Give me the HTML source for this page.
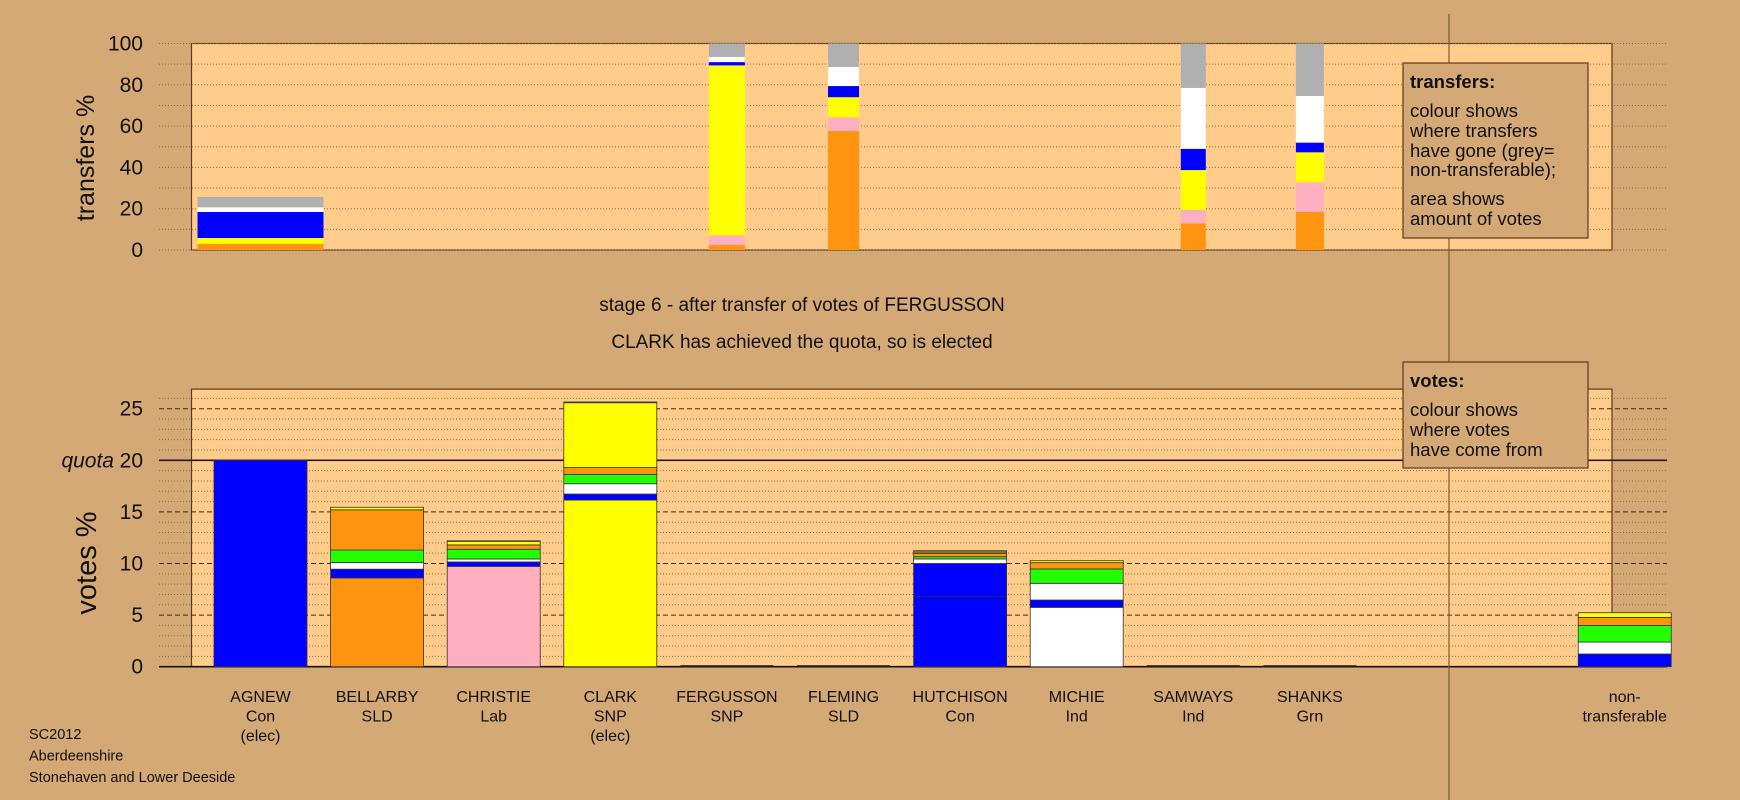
<!DOCTYPE html>
<html><head><meta charset="utf-8"><style>
html,body{margin:0;padding:0;background:#D4A976;}
svg{display:block;font-family:"Liberation Sans",Arial,sans-serif;}
</style></head><body>
<svg id="chart" width="1740" height="800" viewBox="0 0 1740 800" xmlns="http://www.w3.org/2000/svg">
<rect x="0" y="0" width="1740" height="800" fill="#D4A976"/>
<g id="top"></g>
<g id="bottom"></g>
<g id="overlay"></g>
</svg>
<script>
const NS='http://www.w3.org/2000/svg';
// ---- data ----
const candidates=['AGNEW','BELLARBY','CHRISTIE','CLARK','FERGUSSON','FLEMING','HUTCHISON','MICHIE','SAMWAYS','SHANKS'];
const parties=['Con','SLD','Lab','SNP','SNP','SLD','Con','Ind','Ind','Grn'];
const elected=[true,false,false,true,false,false,false,false,false,false];
const colorKeys=['orange','pink','yellow','blue','white','green','grey','olive'];
const topTicks=[0,20,40,60,80,100];
const bottomTicks=[0,5,10,15,20,25];
const quota=20;
const transferSlots=[0,4,5,8,9];
const transferAmounts=[12.6,3.6,3.1,2.5,2.8];
const transferAgnew=[['orange',3],['yellow',2.8],['blue',12.6],['white',2.3],['grey',5]];
const transferFergusson=[['orange',2.4],['pink',4.7],['yellow',82.3],['blue',1.6],['white',2.5],['grey',6.5]];
const transferFleming=[['orange',57.6],['pink',6.7],['yellow',9.7],['blue',5.4],['white',9.2],['grey',11.4]];
const transferSamways=[['orange',12.9],['pink',6.5],['yellow',19.3],['blue',10.3],['white',29.5],['grey',21.5]];
const transferShanks=[['orange',18.4],['pink',14.4],['yellow',14.5],['blue',4.7],['white',22.6],['grey',25.4]];
const transferSeries=[transferAgnew,transferFergusson,transferFleming,transferSamways,transferShanks];
const votesAgnew=[['blue',20]];
const votesBellarby=[['orange',8.6],['blue',0.85],['white',0.65],['green',1.2],['orange',3.9],['yellow',0.25]];
const votesChristie=[['pink',9.72],['blue',0.43],['white',0.29],['green',0.94],['orange',0.42],['yellow',0.35],['olive',0.05]];
const votesClark=[['yellow',16.15],['blue',0.58],['white',1.0],['green',0.91],['orange',0.66],['yellow',6.28],['olive',0.07]];
const votesFergusson=[];
const votesFleming=[];
const votesHutchison=[['blue',6.78],['blue',3.22],['white',0.44],['green',0.22],['orange',0.33],['olive',0.25]];
const votesMichie=[['white',5.75],['blue',0.71],['white',1.62],['green',1.39],['orange',0.61],['yellow',0.19]];
const votesSamways=[];
const votesShanks=[];
const votesNonTransferable=[['blue',1.23],['white',1.16],['green',1.61],['orange',0.78],['yellow',0.45]];
const votesSeries=[votesAgnew,votesBellarby,votesChristie,votesClark,votesFergusson,votesFleming,votesHutchison,votesMichie,votesSamways,votesShanks];

const palette={orange:'#FF9410',pink:'#FFB0C0',yellow:'#FFFF00',blue:'#0000FF',white:'#FFFFFF',green:'#22FF00',grey:'#B0B0B0',olive:'#8C7A1E'};
const plotL=191.5,plotR=1612,gridL=159,gridR=1667;
const slotX=i=>260.5+i*116.6;
const barW=93;
const yTop=v=>250-v*2.065;
const yBot=v=>666.7-v*10.32;

function mk(parent,tag,attrs,text){const e=document.createElementNS(NS,tag);for(const k in attrs)e.setAttribute(k,attrs[k]);if(text!==undefined)e.textContent=text;parent.appendChild(e);return e;}

// ---- top chart ----
const topG=document.getElementById('top');
const topPlot=mk(topG,'rect',{x:plotL,y:yTop(100),width:plotR-plotL,height:yTop(0)-yTop(100),fill:'#FFCC8C',stroke:'#5a3a1a','stroke-width':1.2});


for(let v=0;v<=100;v+=10){
  const g=mk(topG,'line',{x1:gridL,x2:gridR,y1:yTop(v),y2:yTop(v),stroke:'#8a6a4a','stroke-width':1,'stroke-dasharray':'1,2'});
  
  
}
topTicks.forEach(t=>{
  const e=mk(topG,'text',{x:143,y:yTop(t)+7,'text-anchor':'end','font-size':21,fill:'#111'},String(t));
  
  
});
const tt=mk(topG,'text',{x:0,y:0,transform:'translate(94,158) rotate(-90)','text-anchor':'middle','font-size':25,fill:'#111'},'transfers %');


transferSeries.forEach((segs,k)=>{
  const w=transferAmounts[k]*10;
  const cx=slotX(transferSlots[k]);
  let acc=0;
  segs.forEach(([c,v])=>{
    const r=mk(topG,'rect',{x:cx-w/2,y:yTop(acc+v),width:w,height:yTop(acc)-yTop(acc+v),fill:palette[c]});
    
    
    acc+=v;
  });
});

// ---- bottom chart ----
const botG=document.getElementById('bottom');
const botPlot=mk(botG,'rect',{x:plotL,y:yBot(26.9),width:plotR-plotL,height:yBot(0)-yBot(26.9),fill:'#FFCC8C',stroke:'#5a3a1a','stroke-width':1.2});


for(let v=1;v<=26;v++){
  if(v%5===0)continue;
  const g=mk(botG,'line',{x1:gridL,x2:gridR,y1:yBot(v),y2:yBot(v),stroke:'#8a6a4a','stroke-width':1,'stroke-dasharray':'1,2'});
  
  
}
[5,10,15,25].forEach(v=>{
  const g=mk(botG,'line',{x1:gridL,x2:gridR,y1:yBot(v),y2:yBot(v),stroke:'#3a2a1a','stroke-width':1,'stroke-dasharray':'5,3'});
  
  
});
const ql=mk(botG,'line',{x1:gridL,x2:gridR,y1:yBot(quota),y2:yBot(quota),stroke:'#2a1a0a','stroke-width':1.6});


const zl=mk(botG,'line',{x1:gridL,x2:gridR,y1:yBot(0),y2:yBot(0),stroke:'#111','stroke-width':1.6});


bottomTicks.forEach(t=>{
  const e=mk(botG,'text',{x:143,y:yBot(t)+7,'text-anchor':'end','font-size':21,fill:'#111'},String(t));
  
  
});
const qt=mk(botG,'text',{x:114,y:yBot(quota)+7,'text-anchor':'end','font-size':21,'font-style':'italic',fill:'#111'},'quota');


const vt=mk(botG,'text',{x:0,y:0,transform:'translate(96,563) rotate(-90)','text-anchor':'middle','font-size':29,fill:'#111'},'votes %');


function drawVotes(segs,cx,name){
  let acc=0;
  segs.forEach(([c,v])=>{
    const r=mk(botG,'rect',{x:cx-barW/2,y:yBot(acc+v),width:barW,height:yBot(acc)-yBot(acc+v),fill:palette[c],stroke:'#333','stroke-width':0.8});
    
    
    acc+=v;
  });
  if(segs.length===0){
    const r=mk(botG,'rect',{x:cx-barW/2,y:yBot(0)-1.5,width:barW,height:1.5,fill:'#222'});
    
    
  }
}
votesSeries.forEach((s,i)=>drawVotes(s,slotX(i),candidates[i].toLowerCase()));
drawVotes(votesNonTransferable,slotX(11.7),'non-transferable');
candidates.forEach((c,i)=>{
  const lines=[c,parties[i]];if(elected[i])lines.push('(elec)');
  lines.forEach((l,j)=>{
    const e=mk(botG,'text',{x:slotX(i),y:702+j*19.5,'text-anchor':'middle','font-size':16,fill:'#111'},l);
    
    
  });
});
['non-','transferable'].forEach((l,j)=>{
  const e=mk(botG,'text',{x:slotX(11.7),y:702+j*19.5,'text-anchor':'middle','font-size':16,fill:'#111'},l);
  
  
});

// ---- overlay ----
const ov=document.getElementById('overlay');
const vl=mk(ov,'line',{x1:1449,x2:1449,y1:14,y2:800,stroke:'#7a5a3a','stroke-width':1.2});


function legendBox(y1,y2,title,lines,gaps,name){
  const g=mk(ov,'g',{});
  
  
  mk(g,'rect',{x:1403,y:y1,width:185,height:y2-y1,fill:'#D4A976',stroke:'#5a3a1a','stroke-width':1.2});
  mk(g,'text',{x:1410,y:y1+25,'font-size':18.5,'font-weight':'bold',fill:'#111'},title);
  lines.forEach((l,j)=>mk(g,'text',{x:1410,y:y1+54+j*20+gaps[j],'font-size':18.5,fill:'#111'},l));
}
legendBox(63,238,'transfers:',['colour shows','where transfers','have gone (grey=','non-transferable);','area shows','amount of votes'],[0,0,0,-1,8,8],'transfers-legend');
legendBox(362,468,'votes:',['colour shows','where votes','have come from'],[0,0,0],'votes-legend');
const s1=mk(ov,'text',{x:802,y:311,'text-anchor':'middle','font-size':19,fill:'#111'},'stage 6 - after transfer of votes of FERGUSSON');


const s2=mk(ov,'text',{x:802,y:348,'text-anchor':'middle','font-size':19,fill:'#111'},'CLARK has achieved the quota, so is elected');


['SC2012','Aberdeenshire','Stonehaven and Lower Deeside'].forEach((l,j)=>{
  const e=mk(ov,'text',{x:29,y:739+j*21.5,'font-size':14.5,fill:'#111'},l);
  
  
});
</script>
</body></html>
